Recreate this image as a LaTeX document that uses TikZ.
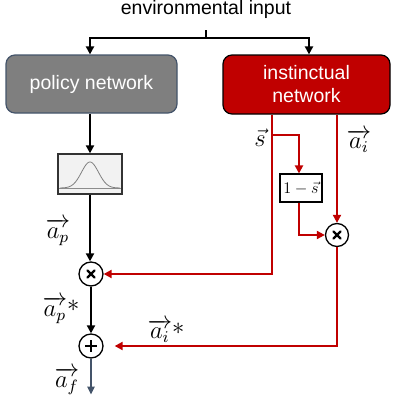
\documentclass[tikz,border=0pt]{standalone}
\usepackage{amsmath}
\usepackage{fontspec}
\setmainfont{Liberation Sans}
\usetikzlibrary{arrows.meta,calc}
\definecolor{myred}{HTML}{C00000}
\definecolor{slate}{HTML}{44546A}
\definecolor{polgray}{HTML}{7F7F7F}
\begin{document}
\begin{tikzpicture}[x=1pt,y=-1pt,
  conn/.style={line width=2.2pt,-{Triangle[length=8pt,width=8pt]}},
  blk/.style={conn,black},
  redc/.style={conn,myred},
  netbox/.style={rounded corners=9pt,line width=1.2pt,align=center,text=white,
     font=\fontsize{19.5}{23}\selectfont,inner sep=0pt},
  opcirc/.style={circle,draw=black,fill=white,line width=1.3pt,minimum size=24pt,inner sep=0pt},
  sym/.style={line width=2.4pt,line cap=round},
  lbl/.style={font=\fontsize{12}{14}\selectfont,inner sep=0pt,scale=2.05}]
\useasboundingbox (0,0) rectangle (392,405);

\node[font=\fontsize{19.5}{23}\selectfont,inner sep=0pt] (env) at (206,9) {environmental input};
\node[netbox,draw=slate,fill=polgray,minimum width=171pt,minimum height=58pt] (policy) at (91.5,84) {policy network};
\node[netbox,draw=black,fill=myred,minimum width=167pt,minimum height=59pt] (inst) at (306.5,84.5) {instinctual\\network};

\node[draw=black!80,fill=black!5,line width=1.3pt,minimum width=64pt,minimum height=40pt,inner sep=0pt] (gauss) at (90,174) {};
\coordinate (gl) at (59,188);
\coordinate (gr) at (121,188);
\draw[black!45,line width=0.8pt] (gl) -- (gr);
\draw[black!50,line width=0.8pt,domain=60:120,samples=80,smooth] plot (\x,{188-26*exp(-0.5*((\x-90)/8.5)*((\x-90)/8.5))});

\node[opcirc] (t1) at (91,274) {};
\node[opcirc] (plus) at (91,346) {};
\node[opcirc,minimum size=23pt] (t2) at (337,235) {};
\draw[sym] ($(t1.center)+(-3.5,-3.5)$) -- ($(t1.center)+(3.5,3.5)$);
\draw[sym] ($(t1.center)+(-3.5,3.5)$) -- ($(t1.center)+(3.5,-3.5)$);
\draw[sym] ($(t2.center)+(-3.5,-3.5)$) -- ($(t2.center)+(3.5,3.5)$);
\draw[sym] ($(t2.center)+(-3.5,3.5)$) -- ($(t2.center)+(3.5,-3.5)$);
\draw[sym,line cap=butt] ($(plus.center)+(-6,0)$) -- ($(plus.center)+(6,0)$);
\draw[sym,line cap=butt] ($(plus.center)+(0,-6)$) -- ($(plus.center)+(0,6)$);

\node[draw=black,fill=white,line width=1.1pt,minimum width=42pt,minimum height=28pt,inner sep=0pt] (om) at (301,188) {};
\node[font=\fontsize{12}{14}\selectfont,inner sep=0pt,scale=1.35] (omtxt) at (om.center) {$1-\vec{s}$};

% environmental input split
\coordinate (tick) at (206,30);
\coordinate (split) at (206,38);
\draw[line width=2.2pt] (tick) -- (split);
\draw[blk] (split) -| ($(policy.north)+(-1.5,0)$);
\draw[blk] (split) -| ($(inst.north)+(2.5,0)$);

% policy path
\draw[blk] (policy.south -| gauss.north) -- (gauss.north);
\draw[blk] (gauss.south) -- (t1.north -| gauss.south);
\draw[blk] (t1.south) -- (plus.north);
\draw[line width=2pt,slate,-{Triangle[length=8pt,width=7pt]}] (plus.south) -- ++(0,36);

% instinctual paths
\coordinate (sout) at ($(inst.south)+(-34.5,0)$);
\coordinate (sbranch) at ($(sout)+(0,20)$);
\draw[redc] (sout) |- (t1.east);
\draw[redc] (sbranch) -| ($(om.north)+(-2,0)$);
\draw[redc] ($(om.south)+(-2,0)$) |- (t2.west);
\draw[redc] (inst.south -| t2.north) -- (t2.north);
\draw[redc,shorten >=11pt] (t2.south) |- (plus.east);

% labels
\node[lbl] (ls) at (260,138) {$\vec{s}$};
\node[lbl] (lai) at (359,141) {$\overrightarrow{a_i}$};
\node[lbl] (lap) at (58,232) {$\overrightarrow{a_p}$};
\node[lbl] (laps) at (61,310) {$\overrightarrow{a_p}\raisebox{0.35ex}{$*$}$};
\node[lbl] (lais) at (166,331) {$\overrightarrow{a_i}\raisebox{0.35ex}{$*$}$};
\node[lbl] (laf) at (67,381) {$\overrightarrow{a_f}$};
\end{tikzpicture}
\end{document}
